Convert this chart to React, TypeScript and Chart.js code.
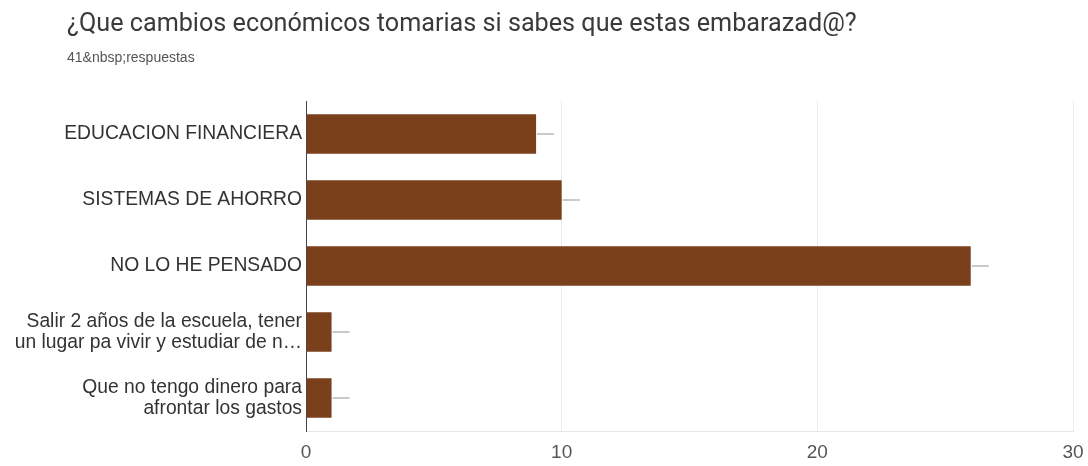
import React, { useEffect, useRef } from "react";
import { Chart, registerables } from "chart.js";

Chart.register(...registerables);

const TITLE = "¿Que cambios económicos tomarias si sabes que estas embarazad@?";
const SUBTITLE = "41&nbsp;respuestas";

const categories: (string | string[])[] = [
  "EDUCACION FINANCIERA",
  "SISTEMAS DE AHORRO",
  "NO LO HE PENSADO",
  ["Salir 2 años de la escuela, tener", "un lugar pa vivir y estudiar de n…"],
  ["Que no tengo dinero para", "afrontar los gastos"],
];

const counts = [9, 10, 26, 1, 1];

const axisMin = 0;
const axisMax = 30;
const axisStep = 10;

const BAR_COLOR = "#7a401b";

const labelLines = {
  id: "labelLines",
  afterDatasetsDraw(chart: any) {
    const ctx = chart.ctx;
    const meta = chart.getDatasetMeta(0);
    ctx.save();
    ctx.strokeStyle = "#c9c9c9";
    ctx.lineWidth = 2;
    meta.data.forEach((bar: any) => {
      ctx.beginPath();
      ctx.moveTo(bar.x + 1, bar.y);
      ctx.lineTo(bar.x + 18, bar.y);
      ctx.stroke();
    });
    ctx.restore();
  },
};

export default function App() {
  const canvasRef = useRef<HTMLCanvasElement | null>(null);

  useEffect(() => {
    if (!canvasRef.current) return;
    const chart = new Chart(canvasRef.current, {
      type: "bar",
      data: {
        labels: categories,
        datasets: [
          {
            data: counts,
            backgroundColor: BAR_COLOR,
            borderWidth: 0,
            barPercentage: 0.6,
            categoryPercentage: 1,
          },
        ],
      },
      options: {
        indexAxis: "y",
        animation: false,
        responsive: true,
        maintainAspectRatio: false,
        layout: { padding: { top: 101, right: 15, bottom: 0, left: 0 } },
        plugins: {
          legend: { display: false },
          tooltip: { enabled: false },
        },
        scales: {
          x: {
            min: axisMin,
            max: axisMax,
            ticks: {
              stepSize: axisStep,
              color: "#555",
              padding: 10,
              font: { family: "'Liberation Sans', Arial, sans-serif", size: 19 },
            },
            grid: { color: "#ececec", drawTicks: false },
            border: { color: "#e6e6e6" },
            afterFit(scale: any) {
              scale.height = 35;
              scale.paddingRight = 0;
              scale.paddingLeft = 0;
            },
          },
          y: {
            ticks: {
              color: "#333",
              padding: 4,
              font: {
                family: "'Liberation Sans', Arial, sans-serif",
                size: 19.3,
                lineHeight: 1.1,
              },
            },
            grid: { display: false, drawTicks: false },
            border: { color: "#444", width: 1 },
            afterFit(scale: any) {
              scale.width = 306;
            },
          },
        },
      },
      plugins: [labelLines],
    });
    return () => chart.destroy();
  }, []);

  return (
    <div
      style={{
        position: "absolute",
        left: 0,
        top: 0,
        width: 1088,
        height: 466,
        background: "#fff",
        overflow: "hidden",
      }}
    >
      <div style={{ position: "absolute", left: 0, top: 0, width: 1088, height: 466 }}>
        <canvas ref={canvasRef} />
      </div>
      <div
        style={{
          position: "absolute",
          left: 67,
          top: 8,
          fontFamily: "Roboto, Arial, sans-serif",
          fontSize: 25.2,
          lineHeight: "30px",
          color: "#3a3a3a",
          whiteSpace: "nowrap",
        }}
      >
        {TITLE}
      </div>
      <div
        style={{
          position: "absolute",
          left: 67,
          top: 48,
          fontFamily: "'Liberation Sans', Arial, sans-serif",
          fontSize: 14,
          lineHeight: "18px",
          color: "#555",
          whiteSpace: "nowrap",
        }}
      >
        {SUBTITLE}
      </div>
    </div>
  );
}
